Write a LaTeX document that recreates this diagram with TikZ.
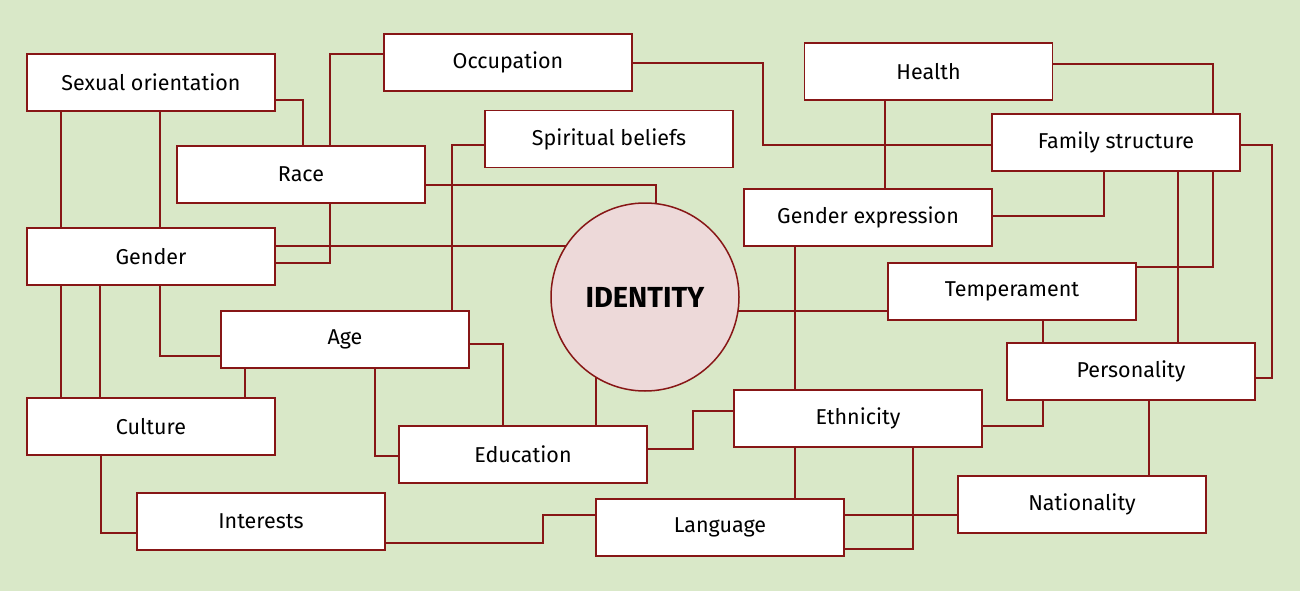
\documentclass[tikz,border=0pt]{standalone}
\usepackage{fontspec}
\setmainfont{Fira Sans}
\pgfdeclarelayer{bg}
\pgfdeclarelayer{back}
\pgfsetlayers{back,bg,main}
\definecolor{bgc}{RGB}{217,232,200}
\definecolor{ln}{RGB}{135,22,22}
\definecolor{cf}{RGB}{237,217,217}
\begin{document}
\begin{tikzpicture}[x=1pt,y=-1pt,
  box/.style={draw=ln,line width=1.5pt,fill=white,minimum width=248pt,minimum height=57pt,inner sep=0pt,font=\fontsize{21.5}{24}\selectfont},
  cn/.style={draw=ln,line width=1.5pt}]
\begin{pgfonlayer}{back}
\fill[bgc] (0,0) rectangle (1300,591);
\end{pgfonlayer}
\useasboundingbox (0,0) rectangle (1300,591);
\node[box] (so) at (151,82.5) {Sexual orientation};
\node[box] (oc) at (508,62.5) {Occupation};
\node[box] (he) at (928.5,71.5) {Health};
\node[box] (sp) at (609,139) {Spiritual beliefs};
\node[box] (ra) at (301,174.5) {Race};
\node[box] (fs) at (1116,142.5) {Family structure};
\node[box] (ge) at (868,217.5) {Gender expression};
\node[box] (gd) at (151,256.5) {Gender};
\node[draw=ln,line width=1.5pt,fill=cf,circle,minimum size=188pt,font=\fontsize{29}{32}\selectfont\bfseries] (id) at (645,297) {IDENTITY};
\node[box] (te) at (1012,291.5) {Temperament};
\node[box] (ag) at (345,339.5) {Age};
\node[box] (pe) at (1131,371.5) {Personality};
\node[box] (cu) at (151,426.5) {Culture};
\node[box] (et) at (858,418.5) {Ethnicity};
\node[box] (ed) at (523,454.5) {Education};
\node[box] (na) at (1082,504.5) {Nationality};
\node[box] (in) at (261,521.5) {Interests};
\node[box] (la) at (720,527.5) {Language};
\begin{pgfonlayer}{bg}
\draw[cn] (so.east |- 0,100) -| (ra.north -| 303,0);
\draw[cn] (so.south -| 61,0) -- (gd.north -| 61,0);
\draw[cn] (so.south -| 160,0) -- (gd.north -| 160,0);
\draw[cn] (oc.west |- 0,54) -| (ra.north -| 330,0);
\draw[cn] (ra.south -| 330,0) |- (gd.east |- 0,263);
\draw[cn] (oc.east |- 0,63) -| (763,145) -- (fs.west |- 0,145);
\draw[cn] (he.east |- 0,64) -| (fs.north -| 1213,0);
\draw[cn] (he.south -| 885,0) -- (ge.north -| 885,0);
\draw[cn] (ra.east |- 0,185) -| (id.center -| 656,0);
\draw[cn] (sp.west |- 0,145) -| (ag.north -| 452,0);
\draw[cn] (gd.east |- 0,246) -- (id.center |- 0,246);
\draw[cn] (fs.south -| 1104,0) |- (ge.east |- 0,216);
\draw[cn] (fs.south -| 1213,0) |- (te.east |- 0,267);
\draw[cn] (fs.south -| 1178,0) -- (pe.north -| 1178,0);
\draw[cn] (fs.east |- 0,145) -| (1272,378) -- (pe.east |- 0,378);
\draw[cn] (ge.south -| 795,0) -- (et.north -| 795,0);
\draw[cn] (id.center |- 0,311) -- (te.west |- 0,311);
\draw[cn] (te.south -| 1043,0) -- (pe.north -| 1043,0);
\draw[cn] (gd.south -| 61,0) -- (cu.north -| 61,0);
\draw[cn] (gd.south -| 100,0) -- (cu.north -| 100,0);
\draw[cn] (gd.south -| 160,0) |- (ag.west |- 0,356);
\draw[cn] (ag.south -| 245,0) -- (cu.north -| 245,0);
\draw[cn] (ag.east |- 0,344) -| (ed.north -| 503,0);
\draw[cn] (ag.south -| 375,0) |- (ed.west |- 0,456);
\draw[cn] (id.center -| 596,0) -- (ed.north -| 596,0);
\draw[cn] (ed.east |- 0,449) -| (693,411) -- (et.west |- 0,411);
\draw[cn] (cu.south -| 101,0) |- (in.west |- 0,533);
\draw[cn] (in.east |- 0,543) -| (543,515) -- (la.west |- 0,515);
\draw[cn] (et.south -| 795,0) -- (la.north -| 795,0);
\draw[cn] (et.south -| 913,0) |- (la.east |- 0,549);
\draw[cn] (et.east |- 0,426) -| (pe.south -| 1043,0);
\draw[cn] (pe.south -| 1149,0) -- (na.north -| 1149,0);
\draw[cn] (la.east |- 0,515) -- (na.west |- 0,515);
\end{pgfonlayer}
\end{tikzpicture}
\end{document}
